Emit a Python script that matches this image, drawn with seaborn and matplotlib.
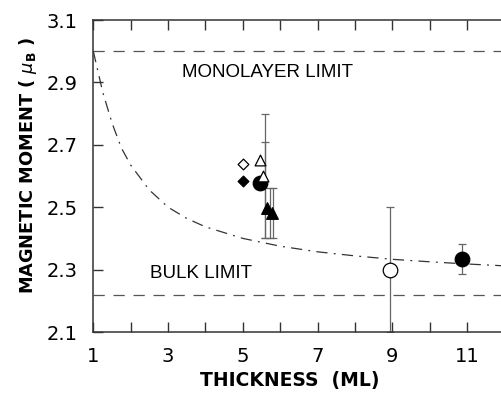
import numpy as np
import pandas as pd
import matplotlib
matplotlib.use("Agg")
import matplotlib.pyplot as plt
import seaborn as sns

# ---- data ----
curve_x = [1.0, 1.25, 1.5, 1.75, 2.0, 2.5, 3.0, 3.5, 4.0, 5.0, 6.0, 7.0, 8.0, 9.0, 10.0, 11.0, 12.0]
curve_y = [3.00, 2.87, 2.77, 2.69, 2.635, 2.555, 2.50, 2.464, 2.437, 2.40, 2.375, 2.357, 2.344, 2.333, 2.325, 2.318, 2.312]

monolayer_limit = 3.0
bulk_limit = 2.22

diamond_open_x = [5.0]
diamond_open_y = [2.64]
diamond_filled_x = [5.0]
diamond_filled_y = [2.585]
tri_open_x = [5.45, 5.55]
tri_open_y = [2.65, 2.60]
circle_filled_x = [5.45, 10.85]
circle_filled_y = [2.577, 2.335]
tri_filled_x = [5.64, 5.78]
tri_filled_y = [2.497, 2.48]
circle_open_x = [8.95]
circle_open_y = [2.30]

# error bars: x, centre, lower extent, upper extent
err_x = [5.6, 5.6, 5.72, 5.8, 8.95, 10.85]
err_y = [2.60, 2.577, 2.48, 2.48, 2.30, 2.335]
err_lo = [0.20, 0.177, 0.08, 0.08, 0.20, 0.048]
err_hi = [0.20, 0.133, 0.08, 0.08, 0.20, 0.048]

x_ticks = [1, 3, 5, 7, 9, 11]
y_ticks = [2.1, 2.3, 2.5, 2.7, 2.9, 3.1]

sns.set_style("ticks")
plt.rcParams['font.family'] = ['DejaVu Sans']
plt.rcParams['mathtext.fontset'] = 'dejavusans'
plt.rcParams['text.color'] = 'black'
plt.rcParams['axes.labelcolor'] = 'black'
plt.rcParams['xtick.labelcolor'] = 'black'
plt.rcParams['ytick.labelcolor'] = 'black'

fig = plt.figure(figsize=(5.01, 3.97), dpi=100)
ax = fig.add_axes([93.3 / 501, 65 / 397, (504.5 - 93.3) / 501, 312 / 397])

line_col = '#555555'
ax.axhline(monolayer_limit, color=line_col, lw=0.9, ls=(0, (9, 7)))
ax.axhline(bulk_limit, color=line_col, lw=0.9, ls=(0, (9, 7)))

df_curve = pd.DataFrame({'x': curve_x, 'y': curve_y})
sns.lineplot(data=df_curve, x='x', y='y', ax=ax, color='#333333', lw=0.9,
             linestyle=(0, (9, 5, 1.5, 5)), sort=False)

ax.errorbar(err_x, err_y, yerr=[err_lo, err_hi], fmt='none', ecolor='#666666',
            elinewidth=0.9, capsize=3, capthick=0.9, zorder=2)

def pts(x, y, marker, filled, size):
    d = pd.DataFrame({'x': x, 'y': y})
    sns.scatterplot(data=d, x='x', y='y', ax=ax, marker=marker, s=size,
                    facecolor='black' if filled else 'white',
                    edgecolor='black', linewidth=0.9, zorder=3)

pts(circle_filled_x, circle_filled_y, 'o', True, 110)
pts(diamond_open_x, diamond_open_y, 'D', False, 30)
pts(diamond_filled_x, diamond_filled_y, 'D', True, 30)
pts(tri_open_x, tri_open_y, '^', False, 60)
pts(tri_filled_x, tri_filled_y, '^', True, 70)
pts(circle_open_x, circle_open_y, 'o', False, 110)

ax.set_xlim(1, 12)
ax.set_ylim(2.1, 3.1)
ax.set_xticks(x_ticks)
ax.set_xticks(range(2, 12), minor=True)
ax.set_yticks(y_ticks)
ax.set_xticklabels([str(v) for v in x_ticks])
ax.set_yticklabels([f"{v:.1f}" for v in y_ticks])
ax.tick_params(axis='both', which='both', direction='in', top=True, right=False,
               length=7, width=1.0, labelsize=14, color='#333333', labelcolor='black')
ax.tick_params(axis='x', pad=11)
ax.tick_params(axis='y', pad=11.5)
for s in ['left', 'bottom', 'top']:
    ax.spines[s].set_linewidth(1.1)
    ax.spines[s].set_color('#333333')
ax.spines['right'].set_visible(False)

ax.set_xlabel('THICKNESS  (ML)', fontsize=13.5, fontweight='bold', color='black')
ax.set_ylabel(r'MAGNETIC MOMENT ( $\mu_{\mathbf{B}}$ )', fontsize=12.8, fontweight='bold',
              color='black')
ax.xaxis.set_label_coords(0.478, -0.125)
ax.yaxis.set_label_coords(-0.132, 0.535)

ax.text(3.36, 2.933, 'MONOLAYER LIMIT', fontsize=13.5, ha='left', va='center',
        family='Liberation Sans', color='black')
ax.text(2.52, 2.289, 'BULK LIMIT', fontsize=13.5, ha='left', va='center',
        family='Liberation Sans', color='black')

fig.savefig('out.png', dpi=100)
